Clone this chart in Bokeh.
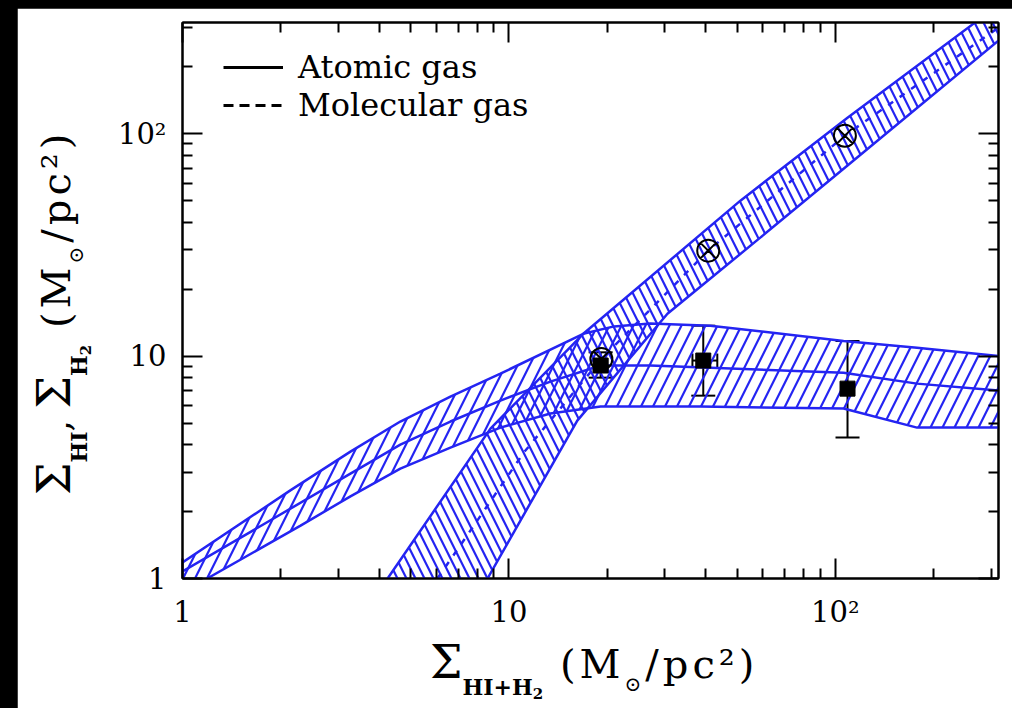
import numpy as np
from bokeh.plotting import figure
from bokeh.models import (Range1d, LogAxis, FixedTicker, Whisker, TeeHead, Div,
                          ColumnDataSource, Legend, LegendItem)
from bokeh.embed import file_html
from bokeh.resources import INLINE

# ---------------- data ----------------
# Atomic gas (HI) band: upper edge, lower edge, middle (solid) line
hi_upper_x = [1.0, 2.14, 3.27, 4.65, 6.62, 9.42, 16.9, 21.0, 27.1, 41.4, 106, 178, 316]
hi_upper_y = [1.18, 2.49, 3.72, 5.08, 6.58, 8.34, 12.6, 13.6, 14.0, 13.7, 11.7, 10.9, 10.0]
hi_lower_x = [1.0, 1.19, 2.30, 3.27, 4.65, 6.62, 9.42, 13.4, 19.1, 38.6, 106, 178, 316]
hi_lower_y = [0.865, 1.0, 1.73, 2.34, 3.12, 3.88, 4.77, 5.52, 5.93, 5.93, 5.81, 4.77, 4.77]
hi_mid_x = [1.0, 3.27, 4.65, 6.62, 9.42, 13.4, 19.1, 27.1, 106, 178, 316]
hi_mid_y = [1.075, 2.96, 4.0, 5.08, 6.31, 7.68, 9.07, 9.07, 8.42, 7.52, 7.0]

# Molecular gas (H2) band: upper edge, lower edge, middle (dashed) line
h2_upper_x = [4.25, 8.78, 16.9, 51.2, 109, 268, 330]
h2_upper_y = [1.0, 4.72, 12.6, 50.0, 118, 316, 390]
h2_lower_x = [8.6, 16.2, 30.6, 58.9, 109, 316]
h2_lower_y = [1.0, 5.13, 15.5, 34.1, 72.0, 262]
h2_mid_x = [6.04, 7.51, 11.1, 19.2, 40.8, 107, 316]
h2_mid_y = [1.0, 1.59, 3.68, 9.7, 29.8, 98.0, 300]

# Observed points
hi_obs_x = [19.1, 39.4, 109]
hi_obs_y = [9.07, 9.55, 7.14]
hi_obs_ylo = [8.0, 6.64, 4.3]
hi_obs_yhi = [10.4, 13.7, 11.7]
hi_xerr_y = [9.07, 9.55]
hi_xerr_lo = [18.2, 36.5]
hi_xerr_hi = [20.0, 43.5]
h2_obs_x = [19.2, 40.8, 107]
h2_obs_y = [9.7, 29.8, 98.0]

major_ticks = [1, 10, 100]
minor_ticks = [2, 3, 4, 5, 6, 7, 8, 9, 20, 30, 40, 50, 60, 70, 80, 90, 200, 300]
tick_labels = {1: "1", 10: "10", 100: "10²"}

legend_labels = ["Atomic gas", "Molecular gas"]

# ---------------- figure ----------------
BLUE = "#2424f2"
SERIF = "DejaVu Serif"

p = figure(width=995, height=700, x_axis_type="log", y_axis_type="log",
           x_range=Range1d(1, 10 ** 2.5), y_range=Range1d(1, 10 ** 2.5),
           output_backend="svg", toolbar_location=None,
           min_border_left=165, min_border_right=14, min_border_top=14,
           min_border_bottom=130)
p.styles = {"position": "absolute", "left": "17px", "top": "8px"}
p.background_fill_color = "white"
p.border_fill_color = "white"
p.outline_line_color = "black"
p.outline_line_width = 2
p.xgrid.visible = False
p.ygrid.visible = False


def style_axis(ax, show_labels=True):
    ax.ticker = FixedTicker(ticks=major_ticks, minor_ticks=minor_ticks)
    ax.major_label_overrides = tick_labels
    ax.axis_line_color = "black"
    ax.axis_line_width = 2
    ax.major_tick_line_color = "black"
    ax.major_tick_line_width = 2
    ax.minor_tick_line_color = "black"
    ax.minor_tick_line_width = 2
    ax.major_tick_in = 20
    ax.major_tick_out = 0
    ax.minor_tick_in = 10
    ax.minor_tick_out = 0
    if show_labels:
        ax.major_label_text_font = SERIF
        ax.major_label_text_font_size = "29px"
        ax.major_label_text_color = "black"
        ax.major_label_standoff = 16
    else:
        ax.major_label_text_font_size = "0px"
        ax.major_label_text_alpha = 0
        ax.major_label_standoff = 0


style_axis(p.xaxis[0])
style_axis(p.yaxis[0])
top_ax = LogAxis()
right_ax = LogAxis()
style_axis(top_ax, False)
style_axis(right_ax, False)
p.add_layout(top_ax, "above")
p.add_layout(right_ax, "right")

# ---------------- bands ----------------
hi_poly_x = hi_upper_x + hi_lower_x[::-1]
hi_poly_y = hi_upper_y + hi_lower_y[::-1]
h2_poly_x = h2_upper_x + h2_lower_x[::-1]
h2_poly_y = h2_upper_y + h2_lower_y[::-1]

p.patch(hi_poly_x, hi_poly_y, fill_color=None, line_alpha=0,
        hatch_pattern="/", hatch_color=BLUE, hatch_weight=2.2, hatch_scale=24)
p.patch(h2_poly_x, h2_poly_y, fill_color=None, line_alpha=0,
        hatch_pattern="\\", hatch_color=BLUE, hatch_weight=2.2, hatch_scale=18)

for xs, ys in [(hi_upper_x, hi_upper_y), (hi_lower_x, hi_lower_y), (hi_mid_x, hi_mid_y),
               (h2_upper_x, h2_upper_y), (h2_lower_x, h2_lower_y)]:
    p.line(xs, ys, line_color=BLUE, line_width=2.5)
p.line(h2_mid_x, h2_mid_y, line_color=BLUE, line_width=2.5, line_dash="6 8")

# ---------------- observations ----------------
src_hi = ColumnDataSource(dict(x=hi_obs_x, y=hi_obs_y, ylo=hi_obs_ylo, yhi=hi_obs_yhi))
src_hix = ColumnDataSource(dict(y=hi_xerr_y, xlo=hi_xerr_lo, xhi=hi_xerr_hi))
src_h2 = ColumnDataSource(dict(x=h2_obs_x, y=h2_obs_y))

p.add_layout(Whisker(base="x", lower="ylo", upper="yhi", dimension="height", source=src_hi,
                     line_color="black", line_width=2,
                     upper_head=TeeHead(size=24, line_color="black", line_width=2),
                     lower_head=TeeHead(size=24, line_color="black", line_width=2)))
p.add_layout(Whisker(base="y", lower="xlo", upper="xhi", dimension="width", source=src_hix,
                     line_color="black", line_width=2,
                     upper_head=TeeHead(size=14, line_color="black", line_width=2),
                     lower_head=TeeHead(size=14, line_color="black", line_width=2)))
p.scatter("x", "y", source=src_h2, marker="circle_x", size=22, fill_color=None,
          line_color="black", line_width=2)
p.scatter("x", "y", source=src_hi, marker="square", size=15, fill_color="black",
          line_color="black")

# ---------------- legend (proxy renderers hold no visible data) ----------------
nan2 = [np.nan, np.nan]
r_solid = p.line(nan2, nan2, line_color="black", line_width=3)
r_dash = p.line(nan2, nan2, line_color="black", line_width=3, line_dash="10 6")
leg = Legend(items=[LegendItem(label=legend_labels[0], renderers=[r_solid]),
                    LegendItem(label=legend_labels[1], renderers=[r_dash])],
             location=(41, 454), padding=0, margin=0, spacing=0,
             glyph_width=60, label_standoff=15,
             label_text_font=SERIF, label_text_font_size="32px",
             label_text_color="black",
             border_line_alpha=0, background_fill_alpha=0)
p.add_layout(leg, "center")

# ---------------- axis titles as HTML text ----------------
WRAP = ("<div style=\"font-family:'DejaVu Serif';font-size:46px;line-height:50px;"
        "white-space:nowrap;color:#000;\">{}</div>")
SUB1 = "<span style=\"font-size:22px;font-weight:bold;position:relative;top:17px;\">{}</span>"
SUB2 = "<span style=\"font-size:15px;font-weight:bold;position:relative;top:4px;\">2</span>"
UNIT = ("<span style=\"font-size:40px;letter-spacing:4px;\">&nbsp;(M<span style=\"font-size:20px;"
        "position:relative;top:13px;\">⊙</span>/pc²)</span>")

x_title = WRAP.format("Σ" + SUB1.format("HI+H" + SUB2) + UNIT)
y_title = WRAP.format("Σ" + SUB1.format("HI") + "<span style=\"font-size:36px;\">,&nbsp;</span>"
                      + "Σ" + SUB1.format("H" + SUB2) + UNIT)

div_x = Div(text=x_title, width=460, height=60,
            styles={"position": "absolute", "left": "425px", "top": "632px"})
div_y = Div(text=y_title, width=460, height=60,
            styles={"position": "absolute", "left": "24px", "top": "490px",
                    "transform": "rotate(-90deg)", "transform-origin": "0 0"})

html = file_html([p, div_x, div_y], INLINE, title="chart")
html = html.replace("<head>", "<head><style>html,body{margin:0;padding:0;background:#000;overflow:hidden;}</style>", 1)
open("out.html", "w").write(html)
